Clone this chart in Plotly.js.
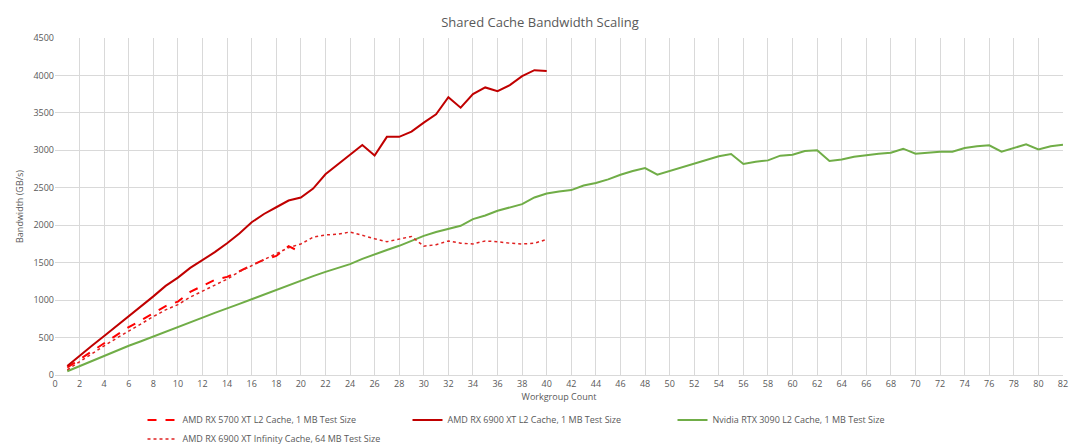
<!DOCTYPE html>
<html>
<head>
<script src="https://cdn.plot.ly/plotly-3.0.1.min.js"></script>
<style>body{margin:0}#chart{width:1080px;height:445px}</style>
</head>
<body>
<div id="chart"></div>
<script>
var rx5700 = [100,210,320,430,530,640,730,830,920,980,1110,1190,1270,1310,1390,1460,1540,1590,1720,1640];
var rx6900L2 = [120,260,390,520,650,780,920,1050,1190,1300,1430,1530,1640,1760,1890,2040,2150,2240,2330,2370,
    2490,2680,2810,2950,3070,2930,3180,3180,3250,3370,3480,3710,3570,3750,3840,3790,3870,3990,4070,4060];
var rtx3090 = [50,120,190,254,320,390,450,512,570,642,700,766,830,887,950,1012,1075,1136,1200,1257,
    1320,1377,1430,1480,1550,1613,1670,1725,1790,1858,1910,1956,1992,2081,2130,2193,2240,2282,2371,2424,
    2451,2469,2531,2563,2612,2674,2723,2763,2674,2723,2768,2817,2862,2920,2951,2817,2848,2866,2929,2942,
    2991,3000,2857,2879,2915,2938,2955,2969,3022,2955,2973,2982,2982,3031,3054,3067,2982,3031,3080,3013,
    3054,3076];
var rx6900IC = [70,180,290,390,490,590,690,780,870,940,1040,1120,1200,1280,1380,1460,1540,1620,1700,1750,
    1840,1870,1880,1910,1860,1820,1780,1820,1850,1720,1740,1790,1760,1750,1790,1780,1760,1750,1760,1810];
var names = ["AMD RX 5700 XT L2 Cache, 1 MB Test Size", "AMD RX 6900 XT L2 Cache, 1 MB Test Size",
    "Nvidia RTX 3090 L2 Cache, 1 MB Test Size", "AMD RX 6900 XT Infinity Cache, 64 MB Test Size"];

function counts(n) {
    var x = [];
    for (var i = 1; i <= n; i++) x.push(i);
    return x;
}

var data = [
    {x: counts(rx5700.length), y: rx5700, name: names[0], mode: 'lines', line: {color: '#ff0000', width: 2, dash: 'dash'}},
    {x: counts(rx6900L2.length), y: rx6900L2, name: names[1], mode: 'lines', line: {color: '#c00000', width: 2}},
    {x: counts(rtx3090.length), y: rtx3090, name: names[2], mode: 'lines', line: {color: '#70ad47', width: 2}},
    {x: counts(rx6900IC.length), y: rx6900IC, name: names[3], mode: 'lines', line: {color: '#e02020', width: 1.5, dash: 'dot'}}
];

var layout = {
    width: 1080, height: 445,
    font: {family: 'Open Sans, sans-serif', size: 9, color: '#595959'},
    title: {text: 'Shared Cache Bandwidth Scaling', font: {size: 13, color: '#595959'}, y: 0.96},
    margin: {l: 55, r: 17, t: 38, b: 70, autoexpand: false},
    showlegend: true,
    legend: {orientation: 'h', x: 0.5, xanchor: 'center', xref: 'container', y: 0.035, yanchor: 'middle', yref: 'container',
        font: {size: 9}, entrywidth: 220},
    xaxis: {range: [0, 82], dtick: 2, tick0: 0, showgrid: true, gridcolor: '#d9d9d9', zeroline: false,
        showline: true, linecolor: '#d9d9d9', ticks: '', title: {text: 'Workgroup Count', standoff: 4, font: {size: 9}}},
    yaxis: {range: [0, 4500], dtick: 500, showgrid: true, gridcolor: '#d9d9d9', zeroline: false,
        ticks: '', title: {text: 'Bandwidth (GB/s)', standoff: 8, font: {size: 9}}},
    plot_bgcolor: '#fff', paper_bgcolor: '#fff'
};

Plotly.newPlot('chart', data, layout, {displayModeBar: false});
</script>
</body>
</html>
